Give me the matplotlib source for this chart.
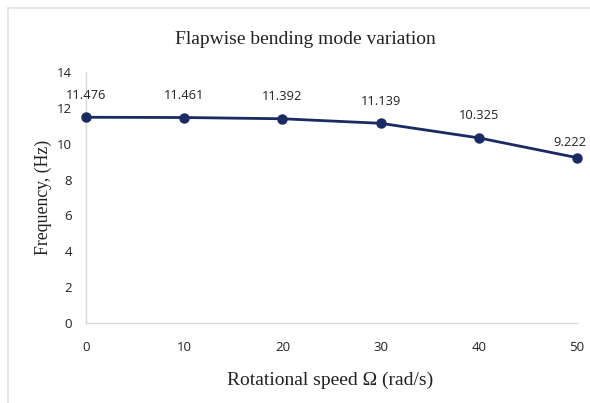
import matplotlib
matplotlib.use("Agg")
import matplotlib.pyplot as plt
from matplotlib.lines import Line2D

speed = [0, 10, 20, 30, 40, 50]
freq = [11.476, 11.461, 11.392, 11.139, 10.325, 9.222]
labels = ["11.476", "11.461", "11.392", "11.139", "10.325", "9.222"]
yticks = [0, 2, 4, 6, 8, 10, 12, 14]
xticks = [0, 10, 20, 30, 40, 50]

W, H = 590, 403
fig = plt.figure(figsize=(W / 100, H / 100), dpi=100)
fig.patch.set_facecolor("white")
# faint outer frame (top and left)
fig.add_artist(Line2D([8/W, 1.0], [1-8/H, 1-8/H], color="#e3e3e3", lw=1.2, transform=fig.transFigure))
fig.add_artist(Line2D([8/W, 8/W], [0.0, 1-8/H], color="#e3e3e3", lw=1.2, transform=fig.transFigure))

ax = fig.add_axes([86/W, 1-323/H, (577-86)/W, (323-72)/H])
line_color = "#1a2a62"
ax.plot(speed, freq, color=line_color, lw=2.0, marker="o", ms=6.5, clip_on=False, zorder=3)

for i, (x, y, t) in enumerate(zip(speed, freq, labels)):
    if i == len(speed) - 1:
        off = (-5, 11)
    else:
        off = (0, 16)
    ax.annotate(t, (x, y), xytext=off, textcoords="offset points",
                ha="center", va="center", fontsize=9.3, family="Open Sans", color="#222222")

ax.set_xlim(0, 50)
ax.set_ylim(0, 14)
ax.set_xticks(xticks)
ax.set_yticks(yticks)
ax.tick_params(length=0, labelsize=9.5, colors="#222222")
ax.tick_params(axis="x", pad=13)
ax.tick_params(axis="y", pad=10)
for lab in ax.get_xticklabels() + ax.get_yticklabels():
    lab.set_family("Open Sans")

for s in ["top", "right"]:
    ax.spines[s].set_visible(False)
for s in ["left", "bottom"]:
    ax.spines[s].set_color("#d9d9d9")
    ax.spines[s].set_linewidth(1.0)

fig.text(330/W, 1-380/H, "Rotational speed Ω (rad/s)", family="Liberation Serif",
         fontsize=14, ha="center", va="center", color="#222222")
fig.text(43/W, 1-197/H, "Frequency, (Hz)", family="Liberation Serif", rotation=90,
         fontsize=12.8, ha="center", va="center", color="#222222")
fig.text(305/W, 1-40/H, "Flapwise bending mode variation", family="Liberation Serif",
         fontsize=14, ha="center", va="center", color="#222222")

fig.savefig("out.png", dpi=100)
